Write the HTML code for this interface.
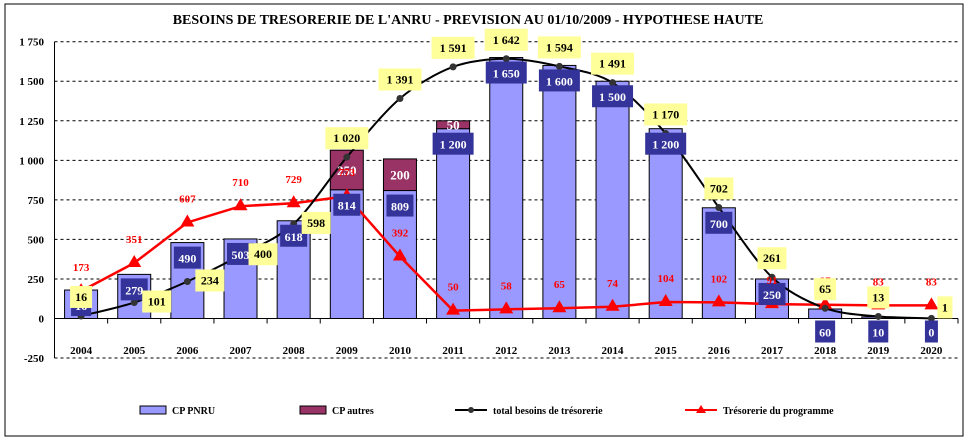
<!DOCTYPE html>
<html><head><meta charset="utf-8"><style>
body{margin:0;background:#fff;width:968px;height:442px;overflow:hidden;font-family:"Liberation Serif",serif}
text{font-family:"Liberation Serif",serif;font-weight:bold}
</style></head><body>
<svg id="c" width="968" height="442">
<rect x="5" y="4" width="958" height="432" fill="#fff" stroke="#000" stroke-width="1"/>
<text x="468" y="24" text-anchor="middle" font-size="14">BESOINS DE TRESORERIE DE L'ANRU - PREVISION AU 01/10/2009 - HYPOTHESE HAUTE</text>
<g id="grid"></g><g id="bars"></g><g id="lines"></g><g id="labels"></g>
<g>
<rect x="140" y="406" width="26" height="8" fill="#9999ff" stroke="#000"/>
<text x="172" y="414" font-size="10">CP PNRU</text>
<rect x="300" y="406" width="26" height="8" fill="#993366" stroke="#000"/>
<text x="332" y="414" font-size="10">CP autres</text>
<line x1="455" y1="410" x2="487" y2="410" stroke="#000" stroke-width="2"/>
<circle cx="471" cy="410" r="3" fill="#333"/>
<text x="493" y="414" font-size="10">total besoins de trésorerie</text>
<line x1="685" y1="410" x2="717" y2="410" stroke="red" stroke-width="2"/>
<polygon points="701,405 706,413 696,413" fill="red"/>
<text x="723" y="414" font-size="10">Trésorerie du programme</text>
</g>
</svg>
<script>
const years=["2004","2005","2006","2007","2008","2009","2010","2011","2012","2013","2014","2015","2016","2017","2018","2019","2020"];
const cpPnru=[180,279,480,503,618,814,809,1200,1650,1600,1500,1200,700,250,60,10,0];
const cpPnruLabels=["16","279","490","503","618","814","809","1 200","1 650","1 600","1 500","1 200","700","250","60","10","0"];
const cpAutres=[0,0,0,0,0,250,200,50,0,0,0,0,0,0,0,0,0];
const totalBesoins=[16,101,234,400,598,1020,1391,1591,1642,1594,1491,1170,702,261,65,13,1];
const tresorerie=[173,351,607,710,729,773,392,50,58,65,74,104,102,91,87,83,83];
const yTicks=[-250,0,250,500,750,1000,1250,1500,1750];
const yTickLabels=["-250","0","250","500","750","1 000","1 250","1 500","1 750"];
const NS="http://www.w3.org/2000/svg";
const x0=54.5,x1=958,y0=318.5,k=276.8/1750;
const bw=(x1-x0)/years.length;
const Y=v=>y0-v*k, X=i=>x0+bw*(i+0.5);
const fmt=v=>{const s=String(v);return s.length>3?s.slice(0,-3)+" "+s.slice(-3):s;};
function mk(t,a,p){const e=document.createElementNS(NS,t);for(const n in a)e.setAttribute(n,a[n]);document.getElementById(p).appendChild(e);return e;}
function smooth(vals){
 const P=vals.map((v,i)=>[X(i),Y(v)]);let d="M"+P[0][0]+","+P[0][1];
 for(let i=0;i<P.length-1;i++){const p0=P[Math.max(0,i-1)],p1=P[i],p2=P[i+1],p3=P[Math.min(P.length-1,i+2)];
  const t=0.15;
  d+=`C${p1[0]+(p2[0]-p0[0])*t},${p1[1]+(p2[1]-p0[1])*t} ${p2[0]-(p3[0]-p1[0])*t},${p2[1]-(p3[1]-p1[1])*t} ${p2[0]},${p2[1]}`;}
 return d;}
function straight(vals){return vals.map((v,i)=>(i?"L":"M")+X(i)+","+Y(v)).join("");}
yTicks.forEach((v,i)=>{
 if(v!==0){const l=mk("line",{x1:x0,x2:x1,y1:Y(v),y2:Y(v),stroke:"#000","stroke-dasharray":"3,3","stroke-width":1},"grid");
 
 }
 const t=mk("text",{x:44,y:Y(v)+4,"text-anchor":"end","font-size":11},"grid");t.textContent=yTickLabels[i];
 
 
});
let a=mk("line",{x1:x0,x2:x0,y1:Y(1750),y2:Y(-250),stroke:"#000"},"grid");


a=mk("line",{x1:x0,x2:x1,y1:y0,y2:y0,stroke:"#000"},"grid");


years.forEach((yr,i)=>{
 const tk=mk("line",{x1:x0+bw*(i+1),x2:x0+bw*(i+1),y1:y0,y2:y0+5,stroke:"#000"},"grid");
 
 
 const t=mk("text",{x:X(i),y:354,"text-anchor":"middle","font-size":11},"grid");t.textContent=yr;
 
 
 const w=33,cx=X(i);
 const b=mk("rect",{x:cx-w/2,y:Y(cpPnru[i]),width:w,height:Math.max(0,cpPnru[i]*k),fill:"#9999ff",stroke:"#000","stroke-width":1},"bars");
 
 
 if(cpAutres[i]>0){
  const b2=mk("rect",{x:cx-w/2,y:Y(cpPnru[i]+cpAutres[i]),width:w,height:cpAutres[i]*k,fill:"#993366",stroke:"#000","stroke-width":1},"bars");
  
  
  const t2=mk("text",{x:cx,y:Y(cpPnru[i]+cpAutres[i]/2)+5,"text-anchor":"middle","font-size":13,fill:"#fff"},"labels");t2.textContent=cpAutres[i];
  
  
 }
});
let p=mk("path",{d:straight(tresorerie),fill:"none",stroke:"red","stroke-width":2.5},"lines");


p=mk("path",{d:smooth(totalBesoins),fill:"none",stroke:"#000","stroke-width":2},"lines");


years.forEach((yr,i)=>{
 const cx=X(i),ty=Y(tresorerie[i]);
 const tri=mk("polygon",{points:`${cx},${ty-8} ${cx+7},${ty+4} ${cx-7},${ty+4}`,fill:"red"},"lines");
 
 
 const c=mk("circle",{cx:cx,cy:Y(totalBesoins[i]),r:3.5,fill:"#333"},"lines");
 
 
});
years.forEach((yr,i)=>{
 const cx=X(i);
 const neg=cpPnru[i]<100;
 const by=neg?y0+2:Y(cpPnru[i])+4;
 const lab=cpPnruLabels[i];const lw=lab.length*7+6;
 const r=mk("rect",{x:cx-lw/2,y:by,width:lw,height:22,fill:"#333399"},"labels");
 
 
 const t=mk("text",{x:cx,y:by+16,"text-anchor":"middle","font-size":12,fill:"#fff"},"labels");t.textContent=lab;
 
 
 const rt=mk("text",{x:cx,y:Y(tresorerie[i])-20,"text-anchor":"middle","font-size":11,fill:"red"},"labels");rt.textContent=fmt(tresorerie[i]);
 
 
 const s=fmt(totalBesoins[i]);const w=s.length*7+8;
 let bx,byy;const py=Y(totalBesoins[i]);
 if(i>0&&i<5){bx=cx+8;byy=py-12;}else if(i===16){bx=cx+6;byy=py-22;}else{bx=cx-w/2;byy=py-30;}
 const yb=mk("rect",{x:bx,y:byy,width:w,height:22,fill:"#ffff99"},"labels");
 
 
 const yt=mk("text",{x:bx+w/2,y:byy+15,"text-anchor":"middle","font-size":12,fill:"#000"},"labels");yt.textContent=s;
 
 
});
</script>
</body></html>
